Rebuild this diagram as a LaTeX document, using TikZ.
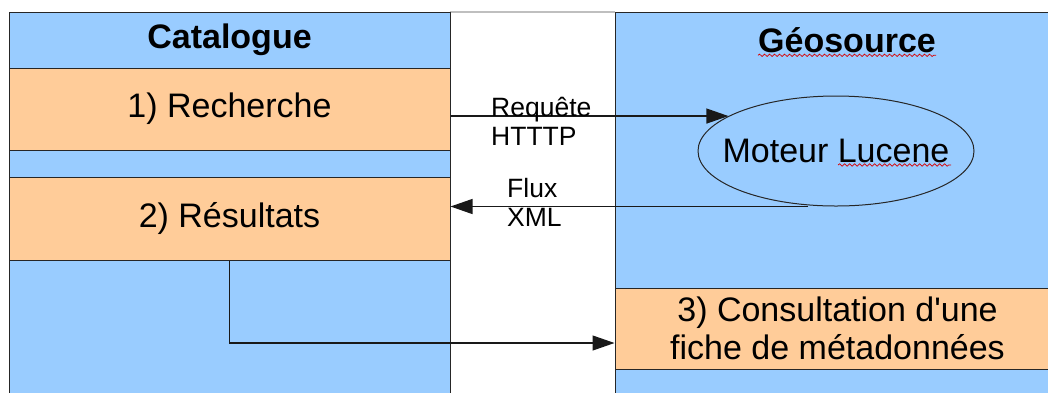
\documentclass[tikz,border=0pt]{standalone}
\usepackage{fontspec}
\setmainfont{Liberation Sans}
\newfontfamily\diagfont{Liberation Sans}
\usetikzlibrary{arrows.meta,shapes.geometric,decorations.pathmorphing}
\definecolor{panelblue}{HTML}{99CCFF}
\definecolor{steporange}{HTML}{FFCC99}

\begin{document}
\begin{tikzpicture}[x=1pt,y=-1pt,
  panel/.style={fill=panelblue,draw=black!85,line width=1pt},
  stepbox/.style={fill=steporange,draw=black!85,line width=1pt,inner sep=0pt,
    font=\diagfont\fontsize{34}{38}\selectfont,align=center},
  title/.style={inner sep=0pt,font=\diagfont\bfseries\fontsize{34}{38}\selectfont},
  flow/.style={line width=1.2pt,black!90,-{Triangle[length=22pt,width=15pt]}},
  lbl/.style={font=\diagfont\fontsize{26.5}{29}\selectfont,align=left,inner sep=0pt},
  spell/.style={red!85!black,line width=0.7pt,decorate,
    decoration={snake,amplitude=1.2pt,segment length=5pt}}]
  \clip (0,0) rectangle (1048,392);
  % the two columns
  \draw[black!25,line width=1.2pt] (450,12) -- (615,12);
  \draw[panel] (9,12) rectangle (450,400);
  \draw[panel] (615,12) rectangle (1060,400);
  % catalogue side
  \node[stepbox,fill=panelblue,minimum width=441pt,minimum height=56pt,
    font=\diagfont\bfseries\fontsize{34}{38}\selectfont] (cat) at (229.5,40) {Catalogue};
  \node[stepbox,minimum width=441pt,minimum height=82pt] (rech) at (229.5,109) {1) Recherche};
  \node[stepbox,minimum width=441pt,minimum height=83pt] (res) at (229.5,218.5) {2) Résultats};
  % geosource side
  \node[title] (geo) at (847,40) {Géosource};
  \node[ellipse,draw=black!85,line width=1pt,minimum width=276pt,minimum height=110pt,
    inner xsep=-17pt,inner ysep=0pt,font=\diagfont\fontsize{34}{38}\selectfont] (luc) at (836,151) {Moteur Lucene};
  \node[stepbox,minimum width=445pt,minimum height=81pt] (cons) at (837.5,328.5)
    {3) Consultation d'une\\fiche de métadonnées};
  % spell-check marks
  \draw[spell] ([yshift=-3pt]geo.base west) -- ([yshift=-3pt]geo.base east);
  \draw[spell] ([xshift=2pt,yshift=-14pt]luc.center) -- ([xshift=115pt,yshift=-14pt]luc.center);
  % exchanges
  \draw[flow] (rech.east |- luc.162) -- (luc.162);
  \coordinate (fx) at ([xshift=-28pt]luc.south);
  \draw[flow] (fx) -- (res.east |- fx);
  \draw[flow] (res.south) |- ([yshift=-14.5pt]cons.west);
  \node[lbl,anchor=west] (req) at (491,121) {Requête\\HTTTP};
  \node[lbl,anchor=west] (flux) at (507,202.5) {Flux\\XML};
\end{tikzpicture}
\end{document}
